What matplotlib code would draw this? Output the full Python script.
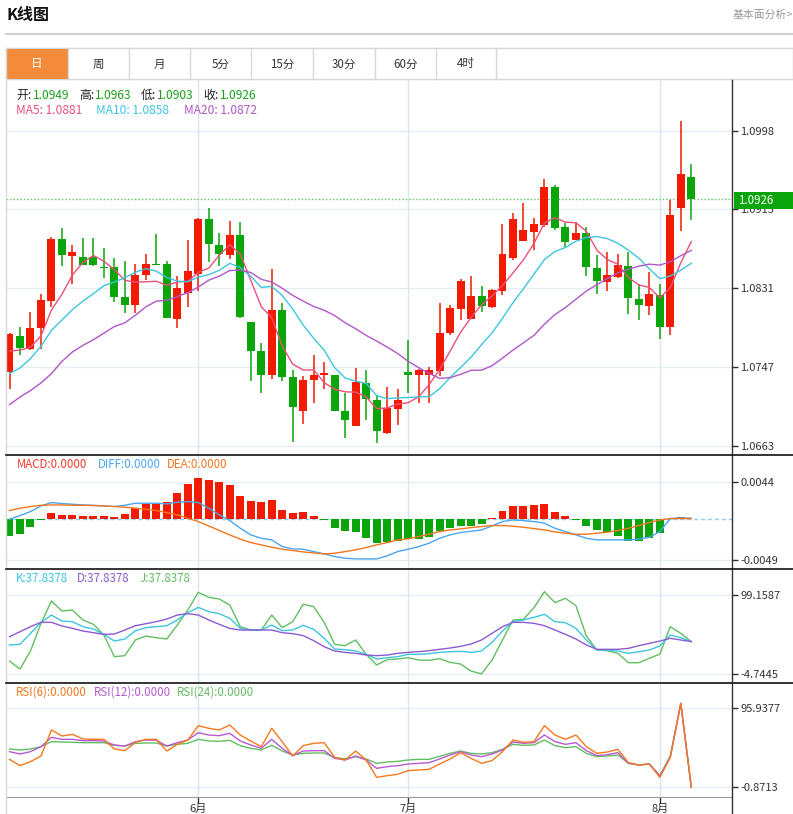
import numpy as np
import pandas as pd
import matplotlib
matplotlib.use('Agg')
import matplotlib.pyplot as plt
from matplotlib.lines import Line2D
from matplotlib.patches import Rectangle

plt.rcParams['font.family'] = ['Noto Sans CJK SC', 'DejaVu Sans']

W, H = 793, 814

# ---------------- data ----------------
opens = [1.0742, 1.0780, 1.0766, 1.0788, 1.0817, 1.0883, 1.0865, 1.0864, 1.0864, 1.0853,
         1.0853, 1.0821, 1.0813, 1.0845, 1.0857, 1.0856, 1.0798, 1.0826, 1.0846, 1.0904,
         1.0877, 1.0866, 1.0887, 1.0795, 1.0764, 1.0738, 1.0808, 1.0736, 1.0700, 1.0733,
         1.0738, 1.0738, 1.0700, 1.0684, 1.0730, 1.0712, 1.0677, 1.0702,
         1.0742, 1.0738, 1.0738, 1.0743, 1.0783, 1.0809, 1.0798, 1.0822, 1.0811, 1.0828,
         1.0863, 1.0881, 1.0891, 1.0898, 1.0938, 1.0896, 1.0882, 1.0890, 1.0852, 1.0837,
         1.0843, 1.0854, 1.0819, 1.0812, 1.0824, 1.0789, 1.0916, 1.0949]
highs = [1.0783, 1.0789, 1.0806, 1.0825, 1.0885, 1.0895, 1.0877, 1.0884, 1.0884, 1.0874,
         1.0863, 1.0860, 1.0857, 1.0867, 1.0888, 1.0860, 1.0844, 1.0882, 1.0905, 1.0916,
         1.0890, 1.0902, 1.0901, 1.0795, 1.0772, 1.0851, 1.0815, 1.0744, 1.0737, 1.0760,
         1.0752, 1.0738, 1.0719, 1.0746, 1.0744, 1.0717, 1.0726, 1.0724,
         1.0776, 1.0745, 1.0747, 1.0815, 1.0813, 1.0841, 1.0844, 1.0833, 1.0830, 1.0899,
         1.0911, 1.0921, 1.0905, 1.0947, 1.0941, 1.0900, 1.0901, 1.0896, 1.0866, 1.0869,
         1.0867, 1.0869, 1.0835, 1.0848, 1.0835, 1.0925, 1.1009, 1.0963]
lows = [1.0724, 1.0760, 1.0765, 1.0766, 1.0811, 1.0854, 1.0835, 1.0855, 1.0854, 1.0842,
        1.0816, 1.0804, 1.0804, 1.0840, 1.0855, 1.0799, 1.0788, 1.0811, 1.0828, 1.0859,
        1.0854, 1.0862, 1.0799, 1.0732, 1.0719, 1.0734, 1.0732, 1.0667, 1.0686, 1.0709,
        1.0724, 1.0700, 1.0671, 1.0684, 1.0691, 1.0666, 1.0676, 1.0685,
        1.0719, 1.0709, 1.0709, 1.0737, 1.0781, 1.0797, 1.0798, 1.0805, 1.0810, 1.0824,
        1.0861, 1.0881, 1.0871, 1.0896, 1.0893, 1.0875, 1.0882, 1.0844, 1.0825, 1.0828,
        1.0842, 1.0803, 1.0797, 1.0802, 1.0777, 1.0781, 1.0892, 1.0903]
closes = [1.0782, 1.0767, 1.0788, 1.0818, 1.0883, 1.0866, 1.0869, 1.0855, 1.0855, 1.0852,
          1.0821, 1.0813, 1.0845, 1.0857, 1.0855, 1.0799, 1.0831, 1.0849, 1.0904, 1.0878,
          1.0867, 1.0887, 1.0800, 1.0764, 1.0738, 1.0808, 1.0736, 1.0704, 1.0733, 1.0738,
          1.0741, 1.0700, 1.0691, 1.0731, 1.0713, 1.0679, 1.0703, 1.0712,
          1.0738, 1.0744, 1.0744, 1.0783, 1.0810, 1.0838, 1.0823, 1.0812, 1.0829, 1.0867,
          1.0904, 1.0893, 1.0899, 1.0938, 1.0895, 1.0880, 1.0890, 1.0853, 1.0838, 1.0845,
          1.0855, 1.0820, 1.0813, 1.0825, 1.0790, 1.0909, 1.0952, 1.0926]

# moving-average values before enough history is visible
ma5_head = [1.0764, 1.0765, 1.0768, 1.0780]
ma10_head = [1.0740, 1.0746, 1.0756, 1.0769, 1.0786, 1.0797, 1.0808, 1.0817, 1.0825]
ma20_head = [1.0707, 1.0715, 1.0722, 1.0730, 1.0740, 1.0753, 1.0763, 1.0770, 1.0776, 1.0783,
             1.0790, 1.0794, 1.0802, 1.0811, 1.0817, 1.0818, 1.0822, 1.0826, 1.0832]

macd = [-0.00206, -0.00182, -0.00103, -0.00012, 0.00063, 0.00044, 0.00044, 0.00032, 0.00032, 0.00028,
        0.00016, 0.00055, 0.00127, 0.00170, 0.00174, 0.00198, 0.00305, 0.00412, 0.00483, 0.00459,
        0.00439, 0.00400, 0.00269, 0.00214, 0.00198, 0.00222, 0.00103, 0.00067, 0.00079, 0.00036,
        -0.00020, -0.00107, -0.00142, -0.00154, -0.00233, -0.00285, -0.00277, -0.00261,
        -0.00245, -0.00237, -0.00214, -0.00146, -0.00111, -0.00091, -0.00091, -0.00063, 0.00008, 0.00087,
        0.00146, 0.00146, 0.00162, 0.00170, 0.00083, 0.00036, -0.00012, -0.00091, -0.00138, -0.00162,
        -0.00206, -0.00261, -0.00265, -0.00230, -0.00174, 0.0, 0.00024, 0.0]
diff = [-0.00008, 0.00036, 0.00083, 0.00150, 0.00190, 0.00178, 0.00170, 0.00162, 0.00158, 0.00150,
        0.00143, 0.00158, 0.00182, 0.00182, 0.00182, 0.00174, 0.00194, 0.00202, 0.00190, 0.00123,
        0.00044, -0.00024, -0.00115, -0.00194, -0.00234, -0.00253, -0.00333, -0.00360, -0.00364, -0.00392,
        -0.00420, -0.00451, -0.00471, -0.00479, -0.00479, -0.00479, -0.00443, -0.00392,
        -0.00364, -0.00333, -0.00293, -0.00234, -0.00194, -0.00166, -0.00150, -0.00135, -0.00087, -0.00036,
        -0.00016, -0.00024, -0.00036, -0.00055, -0.00115, -0.00154, -0.00194, -0.00234, -0.00253, -0.00253,
        -0.00253, -0.00253, -0.00245, -0.00222, -0.00154, 0.0, 0.00008, 0.00004]
dea = [0.00095, 0.00123, 0.00143, 0.00158, 0.00162, 0.00162, 0.00158, 0.00158, 0.00154, 0.00150,
       0.00143, 0.00135, 0.00123, 0.00111, 0.00095, 0.00071, 0.00044, 0.00004, -0.00036, -0.00087,
       -0.00142, -0.00194, -0.00245, -0.00285, -0.00313, -0.00340, -0.00364, -0.00380, -0.00396, -0.00408,
       -0.00420, -0.00412, -0.00392, -0.00372, -0.00344, -0.00313, -0.00285, -0.00253,
       -0.00241, -0.00214, -0.00186, -0.00154, -0.00135, -0.00123, -0.00107, -0.00095, -0.00083, -0.00083,
       -0.00091, -0.00103, -0.00119, -0.00135, -0.00158, -0.00174, -0.00186, -0.00186, -0.00174, -0.00162,
       -0.00142, -0.00115, -0.00083, -0.00047, -0.00016, 0.0, 0.0, 0.0]

k_vals = [33.4, 34.3, 48.7, 63.2, 72.8, 64.9, 64.1, 57.5, 54.4, 47.4, 38.6, 41.3, 52.2, 56.2, 57.5,
          58.8, 66.3, 75.9, 82.9, 77.2, 74.6, 68.5, 55.3, 53.1, 53.1, 59.7, 52.2, 53.1, 59.3, 54.0,
          42.2, 28.1, 27.2, 25.5, 21.1, 15.0, 16.7, 18.0,
          21.1, 21.1, 22.0, 23.7, 24.6, 25.1, 23.7, 25.5, 36.9, 51.8, 64.1, 66.3, 69.8, 73.7, 64.1,
          62.8, 55.3, 40.0, 26.8, 26.4, 25.5, 22.4, 24.6, 26.8, 32.1, 46.5, 43.0, 37.8378]
d_vals = [44.3, 50.9, 57.5, 63.2, 63.2, 58.4, 55.3, 51.8, 49.6, 47.4, 47.9, 53.1, 58.8, 61.4, 64.1,
          67.6, 72.8, 74.6, 72.8, 66.3, 60.6, 55.3, 53.1, 53.1, 53.1, 53.1, 49.6, 48.3, 45.7, 39.1,
          31.2, 25.5, 23.7, 22.4, 20.2, 19.4, 20.2, 22.4,
          23.7, 24.6, 25.9, 27.7, 29.4, 31.6, 34.7, 40.0, 48.7, 57.5, 63.2, 63.2, 61.9, 58.8, 53.1,
          47.4, 41.3, 33.4, 27.7, 27.7, 27.7, 29.0, 32.5, 35.6, 38.6, 42.2, 40.0, 37.8378]
j_vals = [12.3, 1.8, 25.5, 61.9, 91.3, 78.1, 79.4, 66.3, 60.6, 46.5, 18.0, 19.4, 40.0, 45.2, 43.0,
          41.3, 59.7, 79.4, 102.7, 96.1, 93.9, 86.0, 57.5, 53.1, 53.1, 72.8, 56.2, 64.1, 86.9, 83.8,
          63.2, 34.3, 32.5, 40.0, 21.1, 7.1, 14.1, 15.0,
          16.7, 13.7, 13.2, 15.4, 10.6, 8.4, -0.8, -4.7, 13.7, 40.0, 66.3, 67.1, 82.5, 103.5, 89.1,
          94.8, 85.1, 45.2, 26.8, 25.9, 22.4, 10.1, 10.1, 15.9, 21.5, 57.5, 48.7, 37.8378]

rsi6 = [33.44, 25.68, 30.58, 37.53, 69.39, 62.03, 64.08, 58.36, 57.95, 57.95, 46.10, 44.06, 54.27,
        57.95, 57.95, 43.65, 51.82, 57.13, 74.70, 71.43, 69.39, 75.52, 63.26, 55.91, 48.96, 71.43,
        55.09, 37.53, 50.19, 53.05, 53.86, 35.89, 32.62, 43.65, 32.62, 11.38, 13.42, 15.06,
        19.55, 20.37, 21.19, 27.72, 33.85, 41.61, 34.67, 28.54, 31.81, 42.84, 57.13, 54.27, 55.09,
        74.70, 63.26, 57.95, 63.26, 48.96, 40.79, 42.43, 45.70, 29.36, 26.50, 27.72, 11.38, 35.89,
        102.07, -0.8713]
rsi12 = [42.84, 39.98, 42.84, 48.96, 60.40, 57.95, 57.95, 56.32, 56.32, 55.91, 51.01, 49.78, 55.09,
         57.13, 56.73, 49.78, 53.86, 57.13, 66.12, 63.26, 62.44, 65.30, 55.91, 51.01, 46.92, 57.95,
         46.92, 37.93, 43.65, 44.06, 44.06, 34.67, 32.62, 37.53, 32.62, 22.41, 24.46, 25.68,
         27.72, 28.54, 29.36, 33.85, 38.75, 42.84, 38.75, 36.71, 39.98, 44.88, 54.68, 53.05, 53.86,
         63.26, 55.09, 51.82, 53.86, 44.06, 37.93, 39.16, 41.61, 28.54, 26.50, 27.72, 13.01, 36.71,
         102.07, -0.8713]
rsi24 = [46.10, 44.88, 46.10, 48.96, 55.09, 54.68, 54.27, 53.86, 53.86, 53.86, 50.60, 49.78, 53.05,
         53.46, 53.46, 49.78, 51.82, 53.05, 57.95, 55.91, 55.50, 56.73, 50.19, 46.92, 44.88, 50.60,
         43.65, 38.75, 40.79, 41.20, 41.20, 35.48, 34.26, 36.71, 33.85, 28.54, 30.17, 31.00,
         32.62, 33.44, 33.44, 37.12, 40.79, 43.65, 40.79, 39.98, 41.61, 45.70, 51.82, 50.60, 51.01,
         57.13, 50.19, 47.74, 48.96, 40.79, 36.71, 37.53, 38.75, 28.54, 26.50, 27.72, 13.42, 37.53,
         102.07, -0.8713]

month_idx = [18, 38, 62]
month_labels = ['6月', '7月', '8月']

price_ticks = [1.0998, 1.0915, 1.0831, 1.0747, 1.0663]
macd_ticks = [0.0044, -0.0049]
kdj_ticks = [99.1587, -4.7445]
rsi_ticks = [95.9377, -0.8713]
last_price = 1.0926

tabs = ['日', '周', '月', '5分', '15分', '30分', '60分', '4时']

# ---------------- colours ----------------
RED = '#F21A00'
GREEN = '#0AA50A'
C_MA5, C_MA10, C_MA20 = '#EC4F7C', '#3CC6E0', '#B156C9'
C_DIFF, C_DEA = '#4AA6F2', '#F3751E'
C_K, C_D, C_J = '#3CC6E0', '#8C5AD2', '#62BE62'
C_R6, C_R12, C_R24 = '#F5781E', '#B85AD2', '#62BE62'
GRID = '#E6EDF3'
VGRID = '#D9E6EF'
BORDER = '#D8D8D8'

fig = plt.figure(figsize=(W / 100, H / 100), dpi=100)
fig.patch.set_facecolor('white')


def rect(x0, y0, x1, y1):
    return [x0 / W, 1 - y1 / H, (x1 - x0) / W, (y1 - y0) / H]


def fline(xs, ys, color, lw=1.0, **kw):
    fig.add_artist(Line2D([x / W for x in xs], [1 - y / H for y in ys], color=color, lw=lw,
                          transform=fig.transFigure, **kw))


def ftext(x, y, s, color='#333333', size=8.3, **kw):
    fig.text(x / W, 1 - y / H, s, color=color, fontsize=size, va='center', **kw)


n = len(closes)
xs = np.arange(n)
XL = (-0.334, 68.88)

# ---------------- header ----------------
ftext(7, 15, 'K线图', color='#111111', size=11.5, weight='bold')
ftext(793, 15, '基本面分析>', color='#999999', size=7.8, ha='right')
fline([6, 793], [34, 34], '#CFCFCF', lw=1.5)

# tab bar
fig.add_artist(Rectangle((6 / W, 1 - 79 / H), 787 / W, 31 / H, transform=fig.transFigure,
                         facecolor='white', edgecolor=BORDER, lw=1))
fig.add_artist(Rectangle((7 / W, 1 - 79 / H), 61 / W, 30 / H, transform=fig.transFigure,
                         facecolor='#F28B3C', edgecolor='none'))
tab_edges = [6, 68, 129, 190, 251, 313, 375, 436, 496]
for e in tab_edges[1:]:
    fline([e, e], [48, 79], BORDER)
for i, t in enumerate(tabs):
    cx = (tab_edges[i] + tab_edges[i + 1]) / 2
    ftext(cx, 64, t, color='white' if i == 0 else '#333333', size=8.3, ha='center')

# ---------------- axes ----------------
ax_main = fig.add_axes(rect(6, 80, 732, 455))
ax_macd = fig.add_axes(rect(6, 455, 732, 569))
ax_kdj = fig.add_axes(rect(6, 569, 732, 683))
ax_rsi = fig.add_axes(rect(6, 683, 732, 797))

panels = [
    (ax_main, (1.06534, 1.10522), price_ticks, ['%.4f' % v for v in price_ticks]),
    (ax_macd, (-0.00599, 0.00755), macd_ticks, ['%.4f' % v for v in macd_ticks]),
    (ax_kdj, (-16.58, 133.36), kdj_ticks, ['%.4f' % v for v in kdj_ticks]),
    (ax_rsi, (-12.72, 126.98), rsi_ticks, ['%.4f' % v for v in rsi_ticks]),
]
for ax, yl, tv, tl in panels:
    ax.set_xlim(*XL)
    ax.set_ylim(*yl)
    for s in ax.spines.values():
        s.set_visible(False)
    ax.yaxis.set_ticks_position('right')
    ax.set_yticks(tv)
    ax.set_yticklabels(tl)
    ax.tick_params(axis='y', length=4, width=1, pad=2, labelsize=8, colors='#333333')
    ax.set_xticks([])
    for v in tv:
        ax.axhline(v, color=GRID, lw=1, zorder=0)
    for m in month_idx:
        ax.axvline(m, color=VGRID, lw=1, zorder=0)
    ax.patch.set_alpha(0)

# ---------------- candles ----------------
o = np.array(opens); c = np.array(closes); hi = np.array(highs); lo = np.array(lows)
cols = [RED if cc >= oo else GREEN for oo, cc in zip(o, c)]
ax_main.vlines(xs, lo, hi, colors=cols, lw=1.1, zorder=2)
body_b = np.minimum(o, c)
body_h = np.maximum(np.abs(c - o), 0.00010)
ax_main.bar(xs, body_h, bottom=body_b, width=0.76, color=cols, linewidth=0, zorder=3)

s_close = pd.Series(closes)
ma5 = s_close.rolling(5).mean().to_numpy()
ma5[:len(ma5_head)] = ma5_head
ma10 = s_close.rolling(10).mean().to_numpy()
ma10[:len(ma10_head)] = ma10_head
ma20 = s_close.rolling(20).mean().to_numpy()
ma20[:len(ma20_head)] = ma20_head
ax_main.plot(xs, ma5, color=C_MA5, lw=1, zorder=4)
ax_main.plot(xs, ma10, color=C_MA10, lw=1, zorder=4)
ax_main.plot(xs, ma20, color=C_MA20, lw=1, zorder=4)
ax_main.axhline(last_price, color='#5CC85C', lw=1, ls=(0, (1, 1.5)), zorder=1)

# ---------------- MACD ----------------
mv = np.array(macd)
ax_macd.bar(xs, mv, width=0.76, color=[RED if v >= 0 else GREEN for v in mv], linewidth=0, zorder=2)
ax_macd.axhline(0, color='#8FD0EE', lw=1, ls=(0, (3, 2)), zorder=1)
ax_macd.plot(xs, diff, color=C_DIFF, lw=1, zorder=3)
ax_macd.plot(xs, dea, color=C_DEA, lw=1, zorder=3)

# ---------------- KDJ ----------------
ax_kdj.plot(xs, j_vals, color=C_J, lw=1, zorder=2)
ax_kdj.plot(xs, k_vals, color=C_K, lw=1, zorder=3)
ax_kdj.plot(xs, d_vals, color=C_D, lw=1, zorder=3)

# ---------------- RSI ----------------
ax_rsi.plot(xs, rsi24, color=C_R24, lw=1, zorder=2)
ax_rsi.plot(xs, rsi12, color=C_R12, lw=1, zorder=3)
ax_rsi.plot(xs, rsi6, color=C_R6, lw=1, zorder=4)
ax_rsi.spines['bottom'].set_visible(True)
ax_rsi.spines['bottom'].set_color('#9A9A9A')
ax_rsi.set_xticks(month_idx)
ax_rsi.set_xticklabels(month_labels)
ax_rsi.tick_params(axis='x', length=4, width=1, pad=1, labelsize=8, colors='#333333')

# ---------------- frame lines ----------------
fline([6, 6], [48, 814], BORDER)
fline([732, 732], [80, 814], '#333333', lw=1)
for yy in (455, 569, 683):
    fline([6, 793], [yy, yy], '#111111', lw=1.2)

# price box
fig.add_artist(Rectangle((734 / W, 1 - 208.5 / H), 59 / W, 17 / H, transform=fig.transFigure,
                         facecolor='#0AA50A', edgecolor='none', zorder=10))
fig.text(738 / W, 1 - 200.5 / H, '%.4f' % last_price, color='white', fontsize=8.3, va='center',
         zorder=11)

# ---------------- legends ----------------
lab1 = [('开:', 16, '%.4f' % opens[-1], 32.5), ('高:', 79, '%.4f' % highs[-1], 95),
        ('低:', 141, '%.4f' % lows[-1], 157), ('收:', 203, '%.4f' % closes[-1], 219.5)]
for lab, lx, val, vx in lab1:
    ftext(lx, 95.5, lab, color='#222222', size=8.6)
    ftext(vx, 95.5, val, color='#1AA01A', size=8.6)
ftext(16.5, 110, 'MA5: %.4f' % 1.0881, color=C_MA5, size=8.6)
ftext(96.5, 110, 'MA10: %.4f' % 1.0858, color=C_MA10, size=8.6)
ftext(184, 110, 'MA20: %.4f' % 1.0872, color=C_MA20, size=8.6)

ftext(16.5, 465, 'MACD:0.0000', color='#F23A2A')
ftext(97.5, 465, 'DIFF:0.0000', color=C_DIFF)
ftext(167, 465, 'DEA:0.0000', color=C_DEA)

ftext(16, 578.5, 'K:37.8378', color=C_K)
ftext(77, 578.5, 'D:37.8378', color=C_D)
ftext(140, 578.5, 'J:37.8378', color=C_J)

ftext(16, 692, 'RSI(6):0.0000', color=C_R6)
ftext(94, 692, 'RSI(12):0.0000', color=C_R12)
ftext(176.5, 692, 'RSI(24):0.0000', color=C_R24)

fig.savefig('out.png', dpi=100, facecolor='white')
